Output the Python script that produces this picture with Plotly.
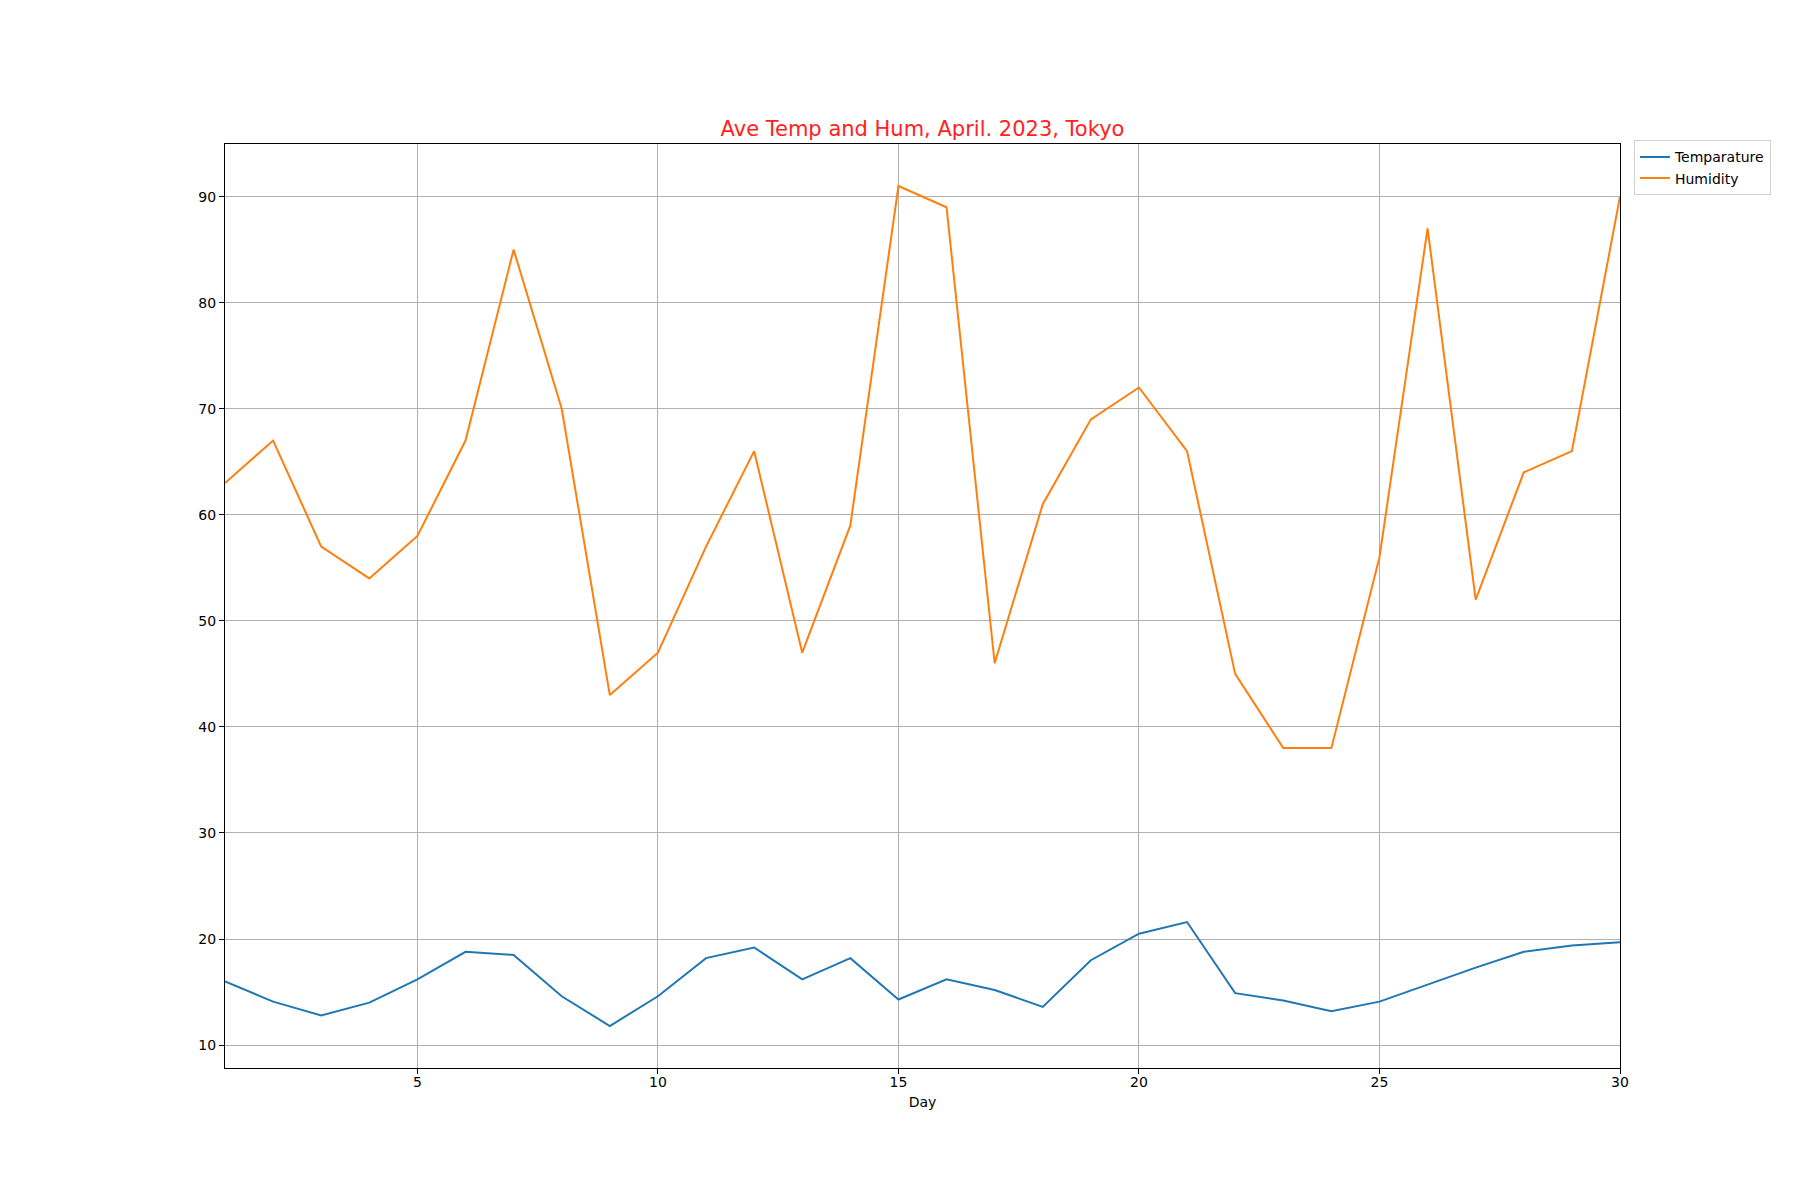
# Line chart of daily average temperature and humidity in Tokyo, April 2023.
import plotly.graph_objects as go

days = list(range(1, 31))
temperature = [16.0, 14.1, 12.8, 14.0, 16.2, 18.8, 18.5, 14.6, 11.8, 14.6,
               18.2, 19.2, 16.2, 18.2, 14.3, 16.2, 15.2, 13.6, 18.0, 20.5,
               21.6, 14.9, 14.2, 13.2, 14.1, 15.7, 17.3, 18.8, 19.4, 19.7]
humidity = [63, 67, 57, 54, 58, 67, 85, 70, 43, 47,
            57, 66, 47, 59, 91, 89, 46, 61, 69, 72,
            66, 45, 38, 38, 56, 87, 52, 64, 66, 90]

# matplotlib-like 5% margin on y
lo = min(temperature + humidity)
hi = max(temperature + humidity)
pad = (hi - lo) * 0.05

font = "DejaVu Sans"

fig = go.Figure()
fig.add_trace(go.Scatter(x=days, y=temperature, mode="lines", name="Temparature",
                         line=dict(color="#1f77b4", width=2)))
fig.add_trace(go.Scatter(x=days, y=humidity, mode="lines", name="Humidity",
                         line=dict(color="#ff7f0e", width=2)))

axis_style = dict(
    showline=True, mirror=True, linecolor="black", linewidth=1.3,
    ticks="outside", ticklen=5, tickwidth=1.2, tickcolor="black",
    showgrid=True, gridcolor="#b0b0b0", gridwidth=1.1,
    zeroline=False, tickfont=dict(family=font, size=14, color="black"),
)

fig.update_xaxes(range=[1, 30], tick0=0, dtick=5, ticklabelstandoff=-4,
                 title=dict(text="Day", font=dict(family=font, size=14, color="black"), standoff=8),
                 **axis_style)
fig.update_yaxes(range=[lo - pad, hi + pad], tick0=0, dtick=10, **axis_style)

# page body has an 8px margin, so the figure is shrunk by 8px to keep the axes in place
fig.update_layout(
    width=1792, height=1192,
    margin=dict(l=217, r=180, t=136, b=132),
    plot_bgcolor="white", paper_bgcolor="white",
    font=dict(family=font, size=14, color="black"),
    title=dict(text="Ave Temp and Hum, April. 2023, Tokyo",
               font=dict(family=font, size=21, color="#ff2222"),
               x=(217 + 1395 / 2) / 1792, xanchor="center",
               yref="container", y=1 - 121 / 1192, yanchor="middle"),
    legend=dict(x=1.01, y=1.004, xanchor="left", yanchor="top",
                bordercolor="#d0d0d0", borderwidth=1, tracegroupgap=0,
                font=dict(family=font, size=14, color="black")),
    showlegend=True,
)

fig.write_html("out.html")
